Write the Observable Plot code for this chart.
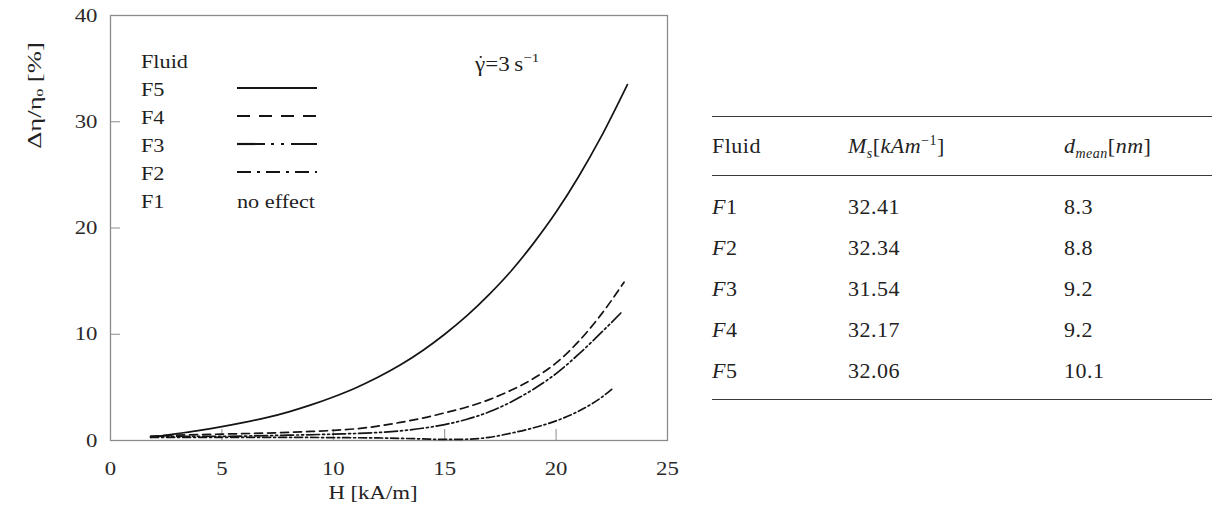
<!DOCTYPE html>
<html><head><meta charset="utf-8">
<script src="https://cdn.jsdelivr.net/npm/d3@7"></script>
<script src="https://cdn.jsdelivr.net/npm/@observablehq/plot@0.6"></script>
<style>
body{margin:0;background:#fff;width:1214px;height:506px;overflow:hidden;position:relative;font-family:"Liberation Serif",serif;}
#chart{position:absolute;left:0;top:0;}
.lg{position:absolute;font-size:19px;color:#1e1e1e;height:28px;line-height:28px;white-space:nowrap;transform:scaleX(1.17);transform-origin:0 50%;}
.sample{position:absolute;}
#gamma{position:absolute;font-size:20px;color:#1e1e1e;white-space:nowrap;transform:scaleX(1.15);transform-origin:0 50%;line-height:24px;}
#gamma .g{position:relative;display:inline-block;}
#gamma .dot{position:absolute;left:3.5px;top:4px;width:2.4px;height:2.4px;border-radius:50%;background:#1e1e1e;}
#gamma sup{font-size:13px;vertical-align:9px;line-height:0;}
#tbl{position:absolute;left:712px;top:116px;width:500px;border-collapse:collapse;font-size:22px;color:#222;border-top:1.6px solid #3a3a3a;border-bottom:1.6px solid #3a3a3a;letter-spacing:0.5px;}
#tbl th{font-weight:normal;text-align:left;height:58px;padding:0;border-bottom:1.6px solid #3a3a3a;}
#tbl td{height:41px;padding:0;}
#tbl tbody tr:first-child td{padding-top:10px;}
#tbl tbody tr:last-child td{padding-bottom:8px;}
#tbl sub{font-size:14px;line-height:0;}
#tbl sup{font-size:14px;line-height:0;}
</style></head><body>
<div id="chart"></div>
<div id="overlay"></div>
<script>
// ---- data ----
const xTicks = [0, 5, 10, 15, 20, 25];
const yTicks = [0, 10, 20, 30, 40];
const xLabel = "H [kA/m]";
const yLabel = "Δη/ηₒ [%]";

const H_F5 = [1.8, 3, 4, 5, 6, 7, 8, 9, 10, 11, 12, 13, 14, 15, 16, 17, 18, 19, 20, 21, 22, 23.2];
const V_F5 = [0.3, 0.65, 0.95, 1.3, 1.7, 2.15, 2.7, 3.35, 4.1, 4.95, 5.95, 7.1, 8.45, 10.0, 11.75, 13.75, 16.0, 18.6, 21.5, 24.8, 28.5, 33.5];
const H_F4 = [1.8, 3, 5, 7, 9, 10, 11, 12, 13, 14, 15, 16, 17, 18, 19, 20, 21, 22, 23.05];
const V_F4 = [0.4, 0.5, 0.6, 0.7, 0.85, 0.95, 1.1, 1.35, 1.7, 2.1, 2.6, 3.15, 3.85, 4.75, 5.85, 7.3, 9.3, 11.8, 14.9];
const H_F3 = [1.8, 3, 5, 8, 10, 12, 13, 14, 15, 16, 17, 18, 19, 20, 21, 22, 23];
const V_F3 = [0.4, 0.4, 0.4, 0.5, 0.6, 0.75, 0.9, 1.15, 1.5, 2.0, 2.7, 3.65, 4.85, 6.3, 8.1, 10.1, 12.2];
const H_F2 = [1.8, 3, 5, 8, 10, 12, 13, 14, 15, 16, 17, 18, 19, 20, 21, 22, 22.6];
const V_F2 = [0.3, 0.3, 0.3, 0.3, 0.27, 0.24, 0.2, 0.15, 0.1, 0.12, 0.3, 0.7, 1.2, 1.85, 2.75, 4.0, 5.0];

const legendTitle = "Fluid";
const legendNames = ["F5", "F4", "F3", "F2", "F1"];
const noEffectText = "no effect";

const tableFluids = ["F1", "F2", "F3", "F4", "F5"];
const tableMs = ["32.41", "32.34", "31.54", "32.17", "32.06"];
const tableD = ["8.3", "8.8", "9.2", "9.2", "10.1"];

// ---- styles ----
const series = [
  {name: "F5", H: H_F5, V: V_F5, dash: null, legendDash: null},
  {name: "F4", H: H_F4, V: V_F4, dash: "8,5", legendDash: "13,9"},
  {name: "F3", H: H_F3, V: V_F3, dash: "13,3,2,3,2,3", legendDash: "28,6,3,7,3,7"},
  {name: "F2", H: H_F2, V: V_F2, dash: "8,3,2,3", legendDash: "14,6,3,6"}
];

const rows = [];
series.forEach(s => s.H.forEach((h, i) => rows.push({fluid: s.name, H: h, v: s.V[i]})));

const W = 700, Hh = 506, mL = 110, mR = 33, mT = 15, mB = 66;
const innerH = Hh - mT - mB, innerW = W - mL - mR;

const plot = Plot.plot({
  width: W, height: Hh,
  marginLeft: mL, marginRight: mR, marginTop: mT, marginBottom: mB,
  x: {domain: [0, 25]},
  y: {domain: [0, 40]},
  style: {fontFamily: "'Liberation Serif', serif", background: "#fff", color: "#333"},
  marks: [
    Plot.frame({stroke: "#8c8c8c", strokeWidth: 1.3}),
    Plot.ruleX(xTicks.slice(1, -1), {insetTop: innerH - 11, stroke: "#8c8c8c", strokeWidth: 1}),
    Plot.ruleY(yTicks.slice(1, -1), {insetRight: innerW - 10, stroke: "#8c8c8c", strokeWidth: 1}),
    Plot.axisX({ticks: xTicks, tickSize: 0, tickPadding: 21, tickFormat: d => String(d), label: null, fontSize: 19, fill: "#2a2a2a"}),
    Plot.axisY({ticks: yTicks, tickSize: 0, tickPadding: 13, tickFormat: d => String(d), label: null, fontSize: 19, fill: "#2a2a2a"}),
    ...series.map(s => Plot.line(rows.filter(r => r.fluid === s.name), {
      x: "H", y: "v", curve: "monotone-x", stroke: "#141414", strokeWidth: 1.7,
      strokeDasharray: s.dash || undefined
    })),
    Plot.text([xLabel], {text: d => d, frameAnchor: "bottom", dx: -16, dy: 58, fontSize: 19, fill: "#222"}),
    Plot.text([yLabel], {text: d => d, frameAnchor: "top-left", textAnchor: "middle", dx: -83, dy: 80, rotate: -90, fontSize: 19, fill: "#222"})
  ]
});
document.getElementById("chart").appendChild(plot);

// horizontal stretch of chart texts (the reference is slightly widened)
plot.querySelectorAll("text").forEach(t => {
  const tr = t.getAttribute("transform") || "";
  if (tr.includes("rotate")) { t.setAttribute("transform", tr + " scale(1.4,1)"); return; }
  if (tr) t.setAttribute("transform", tr + " scale(1.2,1)");
  else {
    const x = parseFloat(t.getAttribute("x")) || 0;
    t.setAttribute("transform", `translate(${x},0) scale(1.2,1) translate(${-x},0)`);
  }
});

// ---- legend overlay ----
const overlay = document.getElementById("overlay");
const lgX = 141, sampleX = 237, sampleW = 80, top0 = 62, gap = 28;
function addText(txt, x, cy, cls) {
  const d = document.createElement("div");
  d.className = cls; d.textContent = txt;
  d.style.left = x + "px"; d.style.top = (cy - 14) + "px";
  overlay.appendChild(d);
}
addText(legendTitle, lgX, top0, "lg");
legendNames.forEach((n, i) => {
  const cy = top0 + gap * (i + 1);
  addText(n, lgX, cy, "lg");
  const s = series.find(q => q.name === n);
  if (s) {
    const ns = "http://www.w3.org/2000/svg";
    const sv = document.createElementNS(ns, "svg");
    sv.setAttribute("width", sampleW); sv.setAttribute("height", 8);
    sv.setAttribute("class", "sample");
    sv.style.left = sampleX + "px"; sv.style.top = (cy - 6) + "px";
    const ln = document.createElementNS(ns, "line");
    ln.setAttribute("x1", 0); ln.setAttribute("x2", sampleW);
    ln.setAttribute("y1", 4); ln.setAttribute("y2", 4);
    ln.setAttribute("stroke", "#141414"); ln.setAttribute("stroke-width", 2.2);
    if (s.legendDash) ln.setAttribute("stroke-dasharray", s.legendDash);
    sv.appendChild(ln);
    overlay.appendChild(sv);
  } else {
    addText(noEffectText, sampleX, cy, "lg");
  }
});
const g = document.createElement("div");
g.id = "gamma";
g.innerHTML = "<span class='g'>γ<span class='dot'></span></span>=3&#8201;s<sup>−1</sup>";
g.style.left = "475px"; g.style.top = (64 - 12) + "px";
overlay.appendChild(g);

// ---- table ----
const tbl = document.createElement("table");
tbl.id = "tbl";
tbl.innerHTML =
  `<colgroup><col style="width:136px"><col style="width:216px"><col></colgroup>` +
  `<thead><tr><th>Fluid</th><th><i>M</i><sub><i>s</i></sub>[<i>kAm</i><sup>−1</sup>]</th><th><i>d</i><sub><i>mean</i></sub>[<i>nm</i>]</th></tr></thead>` +
  `<tbody>` + tableFluids.map((f, i) =>
    `<tr><td><i>${f[0]}</i>${f.slice(1)}</td><td>${tableMs[i]}</td><td>${tableD[i]}</td></tr>`).join("") + `</tbody>`;
overlay.appendChild(tbl);
</script>
</body></html>
